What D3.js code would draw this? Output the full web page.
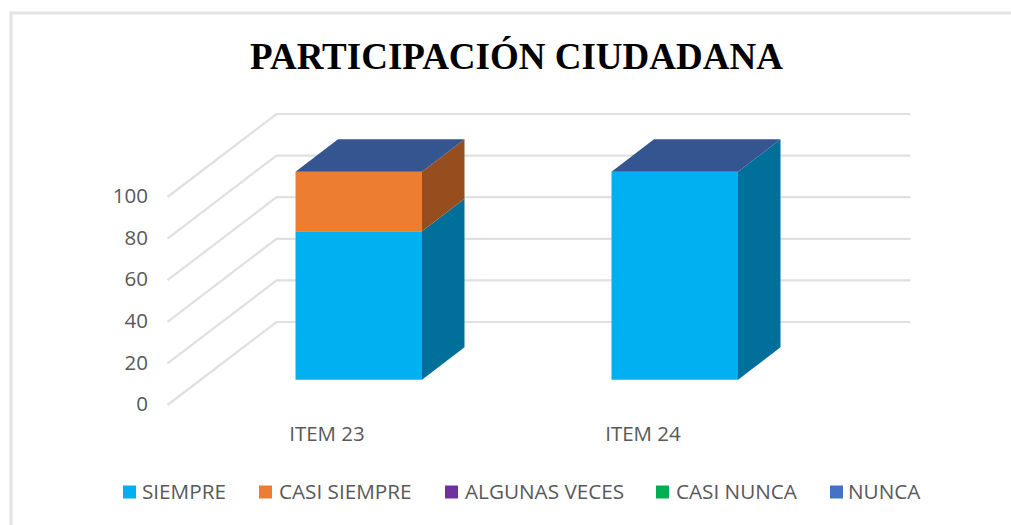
<!DOCTYPE html>
<html>
<head>
<meta charset="utf-8">
<style>
html,body{margin:0;padding:0;background:#fff;overflow:hidden}
svg{display:block}
text{font-family:"Open Sans",sans-serif}
</style>
<script src="https://cdn.jsdelivr.net/npm/d3@7/dist/d3.min.js"></script>
</head>
<body>
<svg id="c" width="1011" height="525"></svg>
<script>
const titleText = "PARTICIPACIÓN CIUDADANA";
const categories = ["ITEM 23", "ITEM 24"];
const seriesNames = ["SIEMPRE", "CASI SIEMPRE", "ALGUNAS VECES", "CASI NUNCA", "NUNCA"];
const siempre = [71.4, 100];
const casiSiempre = [28.6, 0];
const algunasVeces = [0, 0];
const casiNunca = [0, 0];
const nunca = [0, 0];
const yTicks = [0, 20, 40, 60, 80, 100];
const frontColors = ["#00B0F0", "#ED7D31", "#7030A0", "#00B050", "#4472C4"];
const sideColors = ["#00709A", "#964E1E", "#47206A", "#007033", "#2B487C"];
const topColor = "#34558F";
const legendTextX = [142, 279, 465, 676, 848];
const legendSwatchX = [123, 259, 445, 656, 830];

const svg = d3.select("#c");
svg.append("path")
  .attr("d", "M11,525V13H1011")
  .attr("fill", "none").attr("stroke", "#e3e3e3").attr("stroke-width", 3);

svg.append("text").text(titleText)
  .attr("x", 516.5).attr("y", 69).attr("text-anchor", "middle")
  .style("font-family", "'Liberation Serif',serif").style("font-weight", 700)
  .style("font-size", "37px").attr("fill", "#000");

const y = d3.scaleLinear().domain([0, 100]).range([405, 197]);
const x = d3.scaleBand().domain(categories).range([167.5, 799.5]);
const depthX = 109, depthY = -83;
const barWidth = 126.5;
const d0 = 0.305, d1 = 0.695;
const px = (xv, t) => xv + depthX * t;
const py = (yv, t) => y(yv) + depthY * t;

// gridlines: wall edge running from the front of the floor to the back wall, then across
const grid = svg.append("g");
yTicks.forEach(v => {
  grid.append("path")
    .attr("d", `M${px(167.5,0)},${py(v,0)}L${px(167.5,1)},${py(v,1)}H${px(799.5,1)+2}`)
    .attr("fill", "none").attr("stroke", "#e0e0e0").attr("stroke-width", 2.2);
});

svg.append("g").selectAll("text").data(yTicks).join("text")
  .text(d => d)
  .attr("x", 148).attr("y", d => y(d) - 1).attr("dy", "0.35em")
  .attr("text-anchor", "end").style("font-size", "20.5px").attr("fill", "#595959");

svg.append("g").selectAll("text").data(categories).join("text")
  .text(d => d)
  .attr("x", d => x(d) + x.bandwidth() / 2 + 1.5).attr("y", 434).attr("dy", "0.35em")
  .attr("text-anchor", "middle").style("font-size", "20.5px").attr("fill", "#595959");

const table = categories.map((c, i) => ({
  cat: c, SIEMPRE: siempre[i], "CASI SIEMPRE": casiSiempre[i],
  "ALGUNAS VECES": algunasVeces[i], "CASI NUNCA": casiNunca[i], NUNCA: nunca[i]
}));
const stack = d3.stack().keys(seriesNames)(table);

const bars = svg.append("g");
stack.forEach((layer, si) => {
  layer.forEach(seg => {
    if (seg[1] - seg[0] <= 0) return;
    const c = seg.data.cat;
    const xl = x(c) + (x.bandwidth() - barWidth) / 2;
    const xr = xl + barWidth;
    const poly = pts => pts.map(p => p.join(",")).join(" ");
    bars.append("polygon").attr("fill", sideColors[si])
      .attr("points", poly([[px(xr,d0),py(seg[0],d0)],[px(xr,d1),py(seg[0],d1)],[px(xr,d1),py(seg[1],d1)],[px(xr,d0),py(seg[1],d0)]]));
    bars.append("polygon").attr("fill", frontColors[si])
      .attr("points", poly([[px(xl,d0),py(seg[0],d0)],[px(xr,d0),py(seg[0],d0)],[px(xr,d0),py(seg[1],d0)],[px(xl,d0),py(seg[1],d0)]]));
    if (seg[1] >= 100) {
      bars.append("polygon").attr("fill", topColor)
        .attr("points", poly([[px(xl,d0),py(100,d0)],[px(xr,d0),py(100,d0)],[px(xr,d1),py(100,d1)],[px(xl,d1),py(100,d1)]]));
    }
  });
});

const legend = svg.append("g");
seriesNames.forEach((s, i) => {
  legend.append("rect").attr("x", legendSwatchX[i]).attr("y", 485.5).attr("width", 13).attr("height", 13).attr("fill", frontColors[i]);
  legend.append("text").text(s).attr("x", legendTextX[i]).attr("y", 491.5).attr("dy", "0.35em")
    .style("font-size", "20.7px").attr("fill", "#595959");
});
</script>
</body>
</html>
